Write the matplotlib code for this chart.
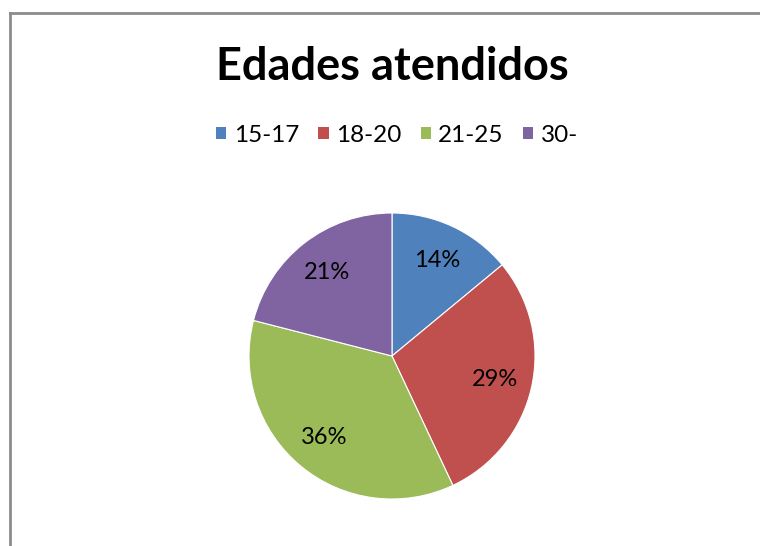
import matplotlib
matplotlib.use("Agg")
import matplotlib.pyplot as plt
from matplotlib.lines import Line2D
from matplotlib.patches import Patch

categories = ["15-17", "18-20", "21-25", "30-"]
values = [14, 29, 36, 21]
colors = ["#4F81BD", "#C0504D", "#9BBB59", "#8064A2"]
title = "Edades atendidos"

W, H = 760, 546
plt.rcParams["font.family"] = ["Lato", "DejaVu Sans"]

fig = plt.figure(figsize=(W / 100, H / 100), dpi=100)
fig.patch.set_facecolor("white")

# chart frame (left and top edges visible)
frame_kw = dict(color="#8c8c8c", linewidth=2.0, transform=fig.transFigure)
fig.add_artist(Line2D([10 / W, 10 / W], [0, 1 - 13 / H], **frame_kw))
fig.add_artist(Line2D([10 / W, 1], [1 - 13 / H, 1 - 13 / H], **frame_kw))

# pie
cx, cy, r = 392, 356, 143
ax = fig.add_axes([(cx - r) / W, (H - cy - r) / H, 2 * r / W, 2 * r / H])
wedges, texts = ax.pie(
    values,
    colors=colors,
    startangle=90,
    counterclock=False,
    labels=[f"{v}%" for v in values],
    labeldistance=0.74,
    wedgeprops=dict(edgecolor="white", linewidth=0.8),
    textprops=dict(fontsize=17, color="black"),
)
for t in texts:
    t.set_horizontalalignment("center")
    t.set_verticalalignment("center")
ax.set_xlim(-1, 1)
ax.set_ylim(-1, 1)
ax.set_aspect("equal")
ax.axis("off")

# title
fig.text(cx / W, 1 - 67 / H, title, ha="center", va="center",
         fontsize=32.5, fontweight="bold", color="black")

# legend
handles = [Patch(facecolor=c, edgecolor="none") for c in colors]
fig.legend(handles, categories, loc="center", ncol=4,
           bbox_to_anchor=(397 / W, 1 - 135 / H), frameon=False,
           fontsize=17.5, handlelength=0.42, handleheight=0.42,
           handletextpad=0.3, columnspacing=0.8)

fig.savefig("out.png", dpi=100, facecolor="white")
